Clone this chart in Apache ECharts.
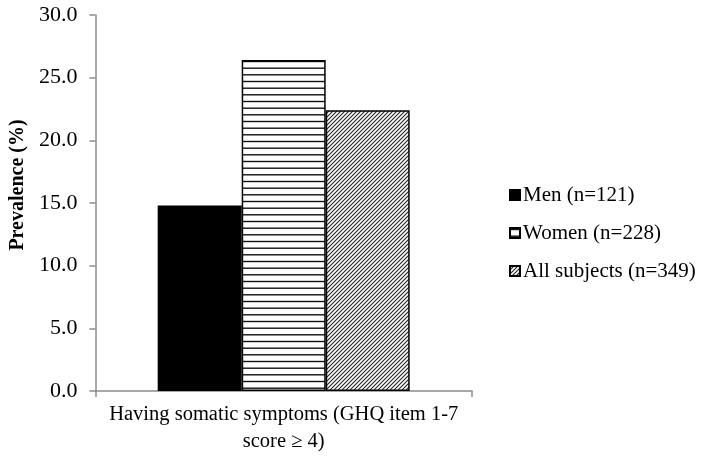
<!DOCTYPE html>
<html>
<head>
<meta charset="utf-8">
<script src="https://cdn.jsdelivr.net/npm/echarts@6/dist/echarts.min.js"></script>
<style>
  html, body { margin: 0; padding: 0; background: #fff; }
  #main { width: 709px; height: 462px; }
</style>
</head>
<body>
<div id="main"></div>
<script>
'use strict';

// data
var categories = ['Having somatic symptoms (GHQ item 1-7\nscore \u2265 4)'];
var seriesNames = ['Men (n=121)', 'Women (n=228)', 'All subjects (n=349)'];
var menValues = [14.8];
var womenValues = [26.4];
var allValues = [22.4];
var yTicks = [0, 5, 10, 15, 20, 25, 30];

// horizontal stripes for Women
function stripePattern() {
    var c = document.createElement('canvas');
    c.width = 4;
    c.height = 20;
    var ctx = c.getContext('2d');
    ctx.fillStyle = '#fff';
    ctx.fillRect(0, 0, 4, 20);
    ctx.strokeStyle = '#111';
    ctx.lineWidth = 1.4;
    [1.5, 8.2, 14.8].forEach(function(y) {
        ctx.beginPath();
        ctx.moveTo(0, y);
        ctx.lineTo(4, y);
        ctx.stroke();
    });
    return c;
}

// diagonal hatch for All subjects
function hatchPattern() {
    var c = document.createElement('canvas');
    c.width = 4;
    c.height = 4;
    var ctx = c.getContext('2d');
    ctx.fillStyle = '#fff';
    ctx.fillRect(0, 0, 4, 4);
    ctx.strokeStyle = '#222';
    ctx.lineWidth = 1.1;
    ctx.beginPath();
    ctx.moveTo(0, 4);
    ctx.lineTo(4, 0);
    ctx.moveTo(-1, 1);
    ctx.lineTo(1, -1);
    ctx.moveTo(3, 5);
    ctx.lineTo(5, 3);
    ctx.stroke();
    return c;
}

var font = '"Liberation Serif", "Times New Roman", serif';
var border = { borderColor: '#000', borderWidth: 1.5 };

var option = {
    animation: false,
    backgroundColor: '#fff',
    textStyle: { fontFamily: font },
    grid: { left: 91, right: 237, top: 15, bottom: 71, containLabel: false },
    legend: {
        orient: 'vertical',
        left: 504,
        top: 178,
        itemWidth: 10,
        itemHeight: 10,
        itemGap: 14,
        icon: 'rect',
        textStyle: { fontFamily: font, fontSize: 21, color: '#000', lineHeight: 24, padding: [0, 0, 0, -2] },
        data: seriesNames
    },
    xAxis: {
        type: 'category',
        data: categories,
        axisLine: { lineStyle: { color: '#8c8c8c', width: 1.5 } },
        axisTick: { show: true, alignWithLabel: false, length: 6, lineStyle: { color: '#8c8c8c', width: 1.5 } },
        axisLabel: { fontFamily: font, fontSize: 20.5, color: '#000', margin: 10, lineHeight: 27 }
    },
    yAxis: {
        type: 'value',
        min: 0,
        max: 30,
        interval: 5,
        name: 'Prevalence (%)',
        nameLocation: 'middle',
        nameGap: 64,
        nameTextStyle: { fontFamily: font, fontSize: 20, fontWeight: 'bold', color: '#000', padding: [0, 0, 0, 36] },
        axisLine: { show: true, lineStyle: { color: '#8c8c8c', width: 1.5 } },
        axisTick: { show: true, length: 6, lineStyle: { color: '#8c8c8c', width: 1.5 } },
        splitLine: { show: false },
        axisLabel: {
            fontFamily: font, fontSize: 22, color: '#000', margin: 18,
            formatter: function(v) { return yTicks.indexOf(v) >= 0 ? v.toFixed(1) : ''; }
        }
    },
    series: [{
        name: seriesNames[0],
        type: 'bar',
        data: menValues,
        barWidth: 84,
        barGap: '0%',
        itemStyle: Object.assign({ color: '#000' }, border)
    }, {
        name: seriesNames[1],
        type: 'bar',
        data: womenValues,
        barWidth: 84,
        barGap: '0%',
        itemStyle: Object.assign({ color: { image: stripePattern(), repeat: 'repeat' } }, border)
    }, {
        name: seriesNames[2],
        type: 'bar',
        data: allValues,
        barWidth: 84,
        barGap: '0%',
        itemStyle: Object.assign({ color: { image: hatchPattern(), repeat: 'repeat' } }, border)
    }]
};

var myChart = echarts.init(document.getElementById('main'));
myChart.setOption(option);
</script>
</body>
</html>
